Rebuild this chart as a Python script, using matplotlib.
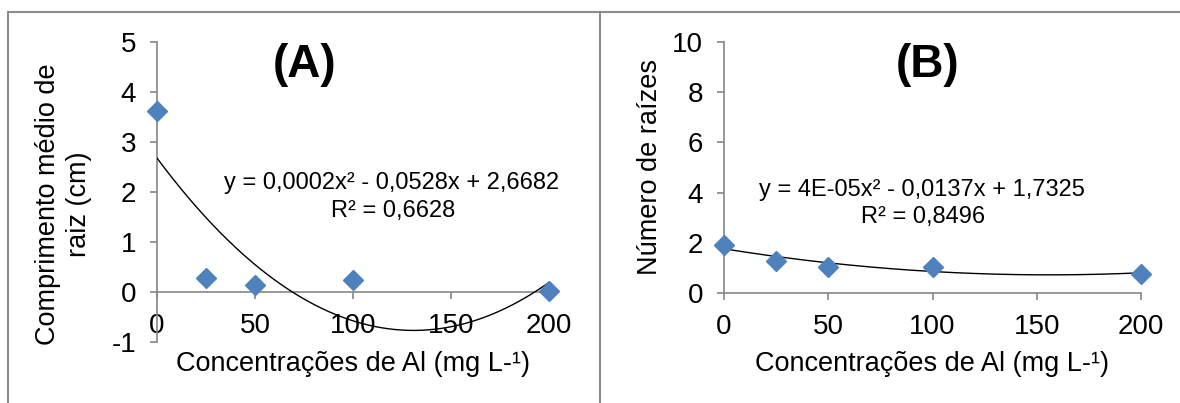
import numpy as np
import matplotlib
matplotlib.use("Agg")
import matplotlib.pyplot as plt
from matplotlib.lines import Line2D

plt.rcParams['font.family'] = ['Liberation Sans', 'DejaVu Sans']
plt.rcParams['axes.unicode_minus'] = False

# data
conc = [0, 25, 50, 100, 200]
comprimento = [3.62, 0.28, 0.15, 0.25, 0.03]
n_raizes = [1.93, 1.29, 1.04, 1.05, 0.77]

xticks = [0, 50, 100, 150, 200]
yticks_a = [-1, 0, 1, 2, 3, 4, 5]
yticks_b = [0, 2, 4, 6, 8, 10]

eq_a = ["y = 0,0002x² - 0,0528x + 2,6682", "R² = 0,6628"]
eq_b = ["y = 4E-05x² - 0,0137x + 1,7325", "R² = 0,8496"]
xlabel = "Concentrações de Al (mg L-¹)"

W, H = 1180, 403
AXIS_GRAY = "#868686"
BLUE = "#4F81BD"
TICK_FS = 20
LABEL_FS = 19.5
EQ_FS = 17


def fx(px):
    return px / W


def fy(py):
    return 1 - py / H


def setup_axis(ax, ylim, yticks):
    ax.set_xlim(0, 200)
    ax.set_ylim(*ylim)
    ax.set_xticks(xticks)
    ax.set_yticks(yticks)
    for s in ['top', 'right']:
        ax.spines[s].set_visible(False)
    ax.spines['bottom'].set_position(('data', 0))
    for s in ['left', 'bottom']:
        ax.spines[s].set_color(AXIS_GRAY)
        ax.spines[s].set_linewidth(1.2)
    ax.tick_params(direction='out', length=5, width=1.2, color=AXIS_GRAY,
                   labelsize=TICK_FS, pad=10)
    ax.patch.set_alpha(0)


def draw_series(ax, x, y):
    coef = np.polyfit(x, y, 2)
    xs = np.linspace(0, 200, 300)
    ax.plot(xs, np.polyval(coef, xs), color='black', lw=1.0, zorder=3)
    ax.plot(x, y, linestyle='none', marker='D', markersize=10.5,
            color=BLUE, markeredgecolor=BLUE, zorder=4, clip_on=False)


fig = plt.figure(figsize=(W / 100, H / 100), dpi=100)

# panel A
axA = fig.add_axes([fx(157), fy(342), 392 / W, 300 / H])
setup_axis(axA, (-1, 5), yticks_a)
draw_series(axA, conc, comprimento)

# panel B
axB = fig.add_axes([fx(724), fy(293), 417 / W, 251 / H])
setup_axis(axB, (0, 10), yticks_b)
draw_series(axB, conc, n_raizes)

# titles
fig.text(fx(305), fy(65), "(A)", ha='center', va='center', fontsize=33, fontweight='bold')
fig.text(fx(928), fy(65), "(B)", ha='center', va='center', fontsize=33, fontweight='bold')

# equations
fig.text(fx(392), fy(183), eq_a[0], ha='center', va='center', fontsize=EQ_FS)
fig.text(fx(393), fy(211), eq_a[1], ha='center', va='center', fontsize=EQ_FS)
fig.text(fx(922), fy(190), eq_b[0], ha='center', va='center', fontsize=EQ_FS)
fig.text(fx(923), fy(217), eq_b[1], ha='center', va='center', fontsize=EQ_FS)

# axis labels
fig.text(fx(48), fy(204), "Comprimento médio de", rotation=90, ha='center', va='center', fontsize=LABEL_FS)
fig.text(fx(79), fy(204), "raiz (cm)", rotation=90, ha='center', va='center', fontsize=LABEL_FS)
fig.text(fx(650), fy(167), "Número de raízes", rotation=90, ha='center', va='center', fontsize=LABEL_FS)
fig.text(fx(353), fy(364), xlabel, ha='center', va='center', fontsize=LABEL_FS)
fig.text(fx(932), fy(364), xlabel, ha='center', va='center', fontsize=LABEL_FS)

# chart area borders
border = dict(color="#8C8C8C", lw=1.5, transform=fig.transFigure)
fig.add_artist(Line2D([fx(8), fx(8)], [fy(12), 0], **border))
fig.add_artist(Line2D([fx(8), 1], [fy(12), fy(12)], **border))
fig.add_artist(Line2D([fx(600), fx(600)], [fy(12), 0], **border))

fig.savefig("out.png", dpi=100)
